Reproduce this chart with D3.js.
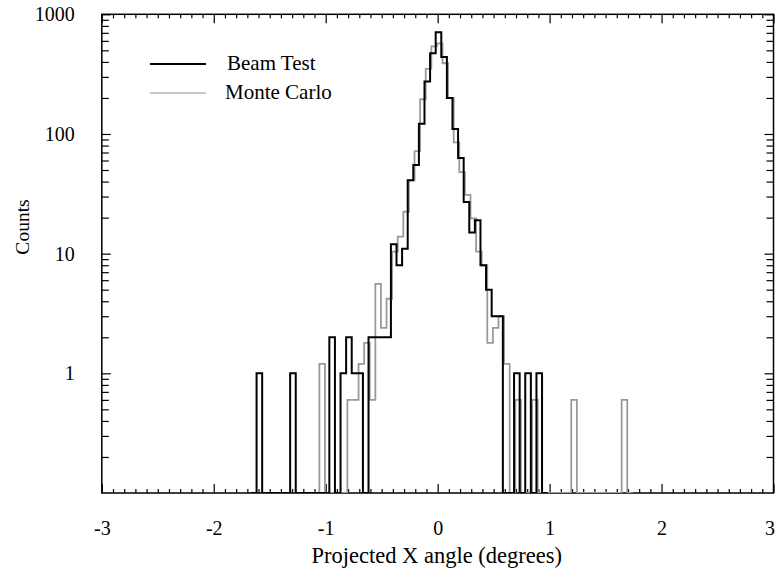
<!DOCTYPE html>
<html>
<head>
<meta charset="utf-8">
<script src="https://cdn.jsdelivr.net/npm/d3@7"></script>
<style>
  html, body { margin: 0; padding: 0; background: #fff; }
  svg { display: block; font-family: "Liberation Serif", "Times New Roman", serif; }
</style>
</head>
<body>
<svg id="chart" width="776" height="579"></svg>
<script>
// ---------------- data ----------------
const binWidth = 0.05;
// Beam Test: counts for consecutive bins, first bin lower edge = btFirstEdge
const btFirstEdge = -1.6675;
const btCounts = [
  0, 1, 0, 0, 0, 0, 0, 1, 0, 0, 0, 0, 0, 0,
  2, 0, 1, 2, 1, 1, 0, 2, 2, 2, 2,
  12, 8, 11, 41, 55, 122, 275, 472, 708, 440, 200, 110, 63, 27, 15, 19, 8, 5, 3, 3,
  0, 0, 1, 0, 1, 0, 1, 0
];
// Monte Carlo: counts for consecutive bins, first bin lower edge = mcFirstEdge
const mcFirstEdge = -1.1065;
const mcCounts = [
  0, 1.2, 0, 0, 0, 0, 0.6, 0.6, 1.2, 1.8, 0.6, 5.6, 2.4, 4.2,
  10.4, 13.9, 22.4, 41, 72, 195, 350, 540, 570, 390, 200, 85, 48, 31, 19.7, 10.4, 8,
  1.8, 2.4, 3.0, 1.2, 0, 0.6, 0, 0, 0.6,
  0, 0, 0, 0, 0, 0, 0.6, 0, 0, 0, 0, 0, 0, 0, 0, 0.6, 0
];
const xTicks = [-3, -2, -1, 0, 1, 2, 3];
const xTickLabels = ["-3", "-2", "-1", "0", "1", "2", "3"];
const yTicks = [1, 10, 100, 1000];
const yTickLabels = ["1", "10", "100", "1000"];
const legendLabels = ["Beam Test", "Monte Carlo"];
const xTitle = "Projected X angle (degrees)";
const yTitle = "Counts";

// ---------------- layout ----------------
const L = 101.8, R = 773.5, T = 14.3, B = 493;
const svg = d3.select("#chart");
const x = d3.scaleLinear().domain([-3, 3]).range([L, R]);
const y = d3.scaleLog().domain([0.1, 1000]).range([B, T]);

// minor tick values
const xMinor = d3.range(-30, 31).map(i => i / 10).filter(v => Math.abs(v - Math.round(v)) > 1e-9);
const yMinor = [];
[0.1, 1, 10, 100].forEach(d => { for (let m = 2; m <= 9; m++) yMinor.push(d * m); });

const fontTick = 20;

function styleAxis(g) {
  g.select(".domain").remove();
  g.selectAll("line").attr("stroke", "#000").attr("stroke-width", 1.2);
  g.selectAll("text").attr("font-size", fontTick).attr("fill", "#000")
    .style("font-family", '"Liberation Serif", "Times New Roman", serif');
}

// bottom
const bottomMajor = svg.append("g").attr("transform", `translate(0,${B})`)
  .call(d3.axisBottom(x).tickValues(xTicks).tickFormat((d, i) => xTickLabels[i])
    .tickSizeInner(-9).tickSizeOuter(0).tickPadding(28))
  .call(styleAxis);
bottomMajor.selectAll(".tick text").filter(d => d === 3).attr("dx", -4);
svg.append("g").attr("transform", `translate(0,${B})`)
  .call(d3.axisBottom(x).tickValues(xMinor).tickFormat("").tickSizeInner(-4).tickSizeOuter(0))
  .call(styleAxis);
// top
svg.append("g").attr("transform", `translate(0,${T})`)
  .call(d3.axisTop(x).tickValues(xTicks).tickFormat("").tickSizeInner(-9).tickSizeOuter(0))
  .call(styleAxis);
svg.append("g").attr("transform", `translate(0,${T})`)
  .call(d3.axisTop(x).tickValues(xMinor).tickFormat("").tickSizeInner(-4).tickSizeOuter(0))
  .call(styleAxis);
// left
svg.append("g").attr("transform", `translate(${L},0)`)
  .call(d3.axisLeft(y).tickValues(yTicks).tickFormat((d, i) => yTickLabels[i])
    .tickSizeInner(-9).tickSizeOuter(0).tickPadding(27))
  .call(styleAxis);
svg.append("g").attr("transform", `translate(${L},0)`)
  .call(d3.axisLeft(y).tickValues(yMinor).tickFormat("").tickSizeInner(-7).tickSizeOuter(0))
  .call(styleAxis);
// right
svg.append("g").attr("transform", `translate(${R},0)`)
  .call(d3.axisRight(y).tickValues(yTicks).tickFormat("").tickSizeInner(-9).tickSizeOuter(0))
  .call(styleAxis);
svg.append("g").attr("transform", `translate(${R},0)`)
  .call(d3.axisRight(y).tickValues(yMinor).tickFormat("").tickSizeInner(-7).tickSizeOuter(0))
  .call(styleAxis);

// frame
svg.append("rect").attr("x", L).attr("y", T).attr("width", R - L).attr("height", B - T)
  .attr("fill", "none").attr("stroke", "#000").attr("stroke-width", 1.5);

// ---------------- histograms ----------------
function stepPoints(firstEdge, counts) {
  const pts = [[firstEdge, 0.1]];
  counts.forEach((c, i) => {
    const v = c > 0.1 ? c : 0.1;
    const lo = firstEdge + i * binWidth, hi = lo + binWidth;
    pts.push([lo, v], [hi, v]);
  });
  pts.push([firstEdge + counts.length * binWidth, 0.1]);
  return pts;
}
const line = d3.line().x(d => x(d[0])).y(d => y(d[1]));

svg.append("clipPath").attr("id", "plotclip")
  .append("rect").attr("x", L).attr("y", T).attr("width", R - L).attr("height", B - T);

svg.append("path").datum(stepPoints(mcFirstEdge, mcCounts))
  .attr("d", line).attr("fill", "none").attr("stroke", "#9a9a9a").attr("stroke-width", 1.8)
  .attr("clip-path", "url(#plotclip)");
svg.append("path").datum(stepPoints(btFirstEdge, btCounts))
  .attr("d", line).attr("fill", "none").attr("stroke", "#000").attr("stroke-width", 2)
  .attr("clip-path", "url(#plotclip)");

// ---------------- legend ----------------
const leg = svg.append("g");
leg.append("line").attr("x1", 150).attr("x2", 206).attr("y1", 64).attr("y2", 64)
  .attr("stroke", "#000").attr("stroke-width", 2);
leg.append("text").attr("x", 227).attr("y", 70).attr("font-size", 21).text(legendLabels[0]);
leg.append("line").attr("x1", 150).attr("x2", 206).attr("y1", 93).attr("y2", 93)
  .attr("stroke", "#8c8c8c").attr("stroke-width", 1);
leg.append("text").attr("x", 225).attr("y", 99).attr("font-size", 21).text(legendLabels[1]);

// ---------------- titles ----------------
svg.append("text").attr("x", (311.7 + 561.7) / 2).attr("y", 563).attr("text-anchor", "middle")
  .attr("font-size", 22.5).text(xTitle);
svg.append("text").attr("transform", "translate(29,227) rotate(-90)").attr("text-anchor", "middle")
  .attr("font-size", 19.5).text(yTitle);
</script>
</body>
</html>
